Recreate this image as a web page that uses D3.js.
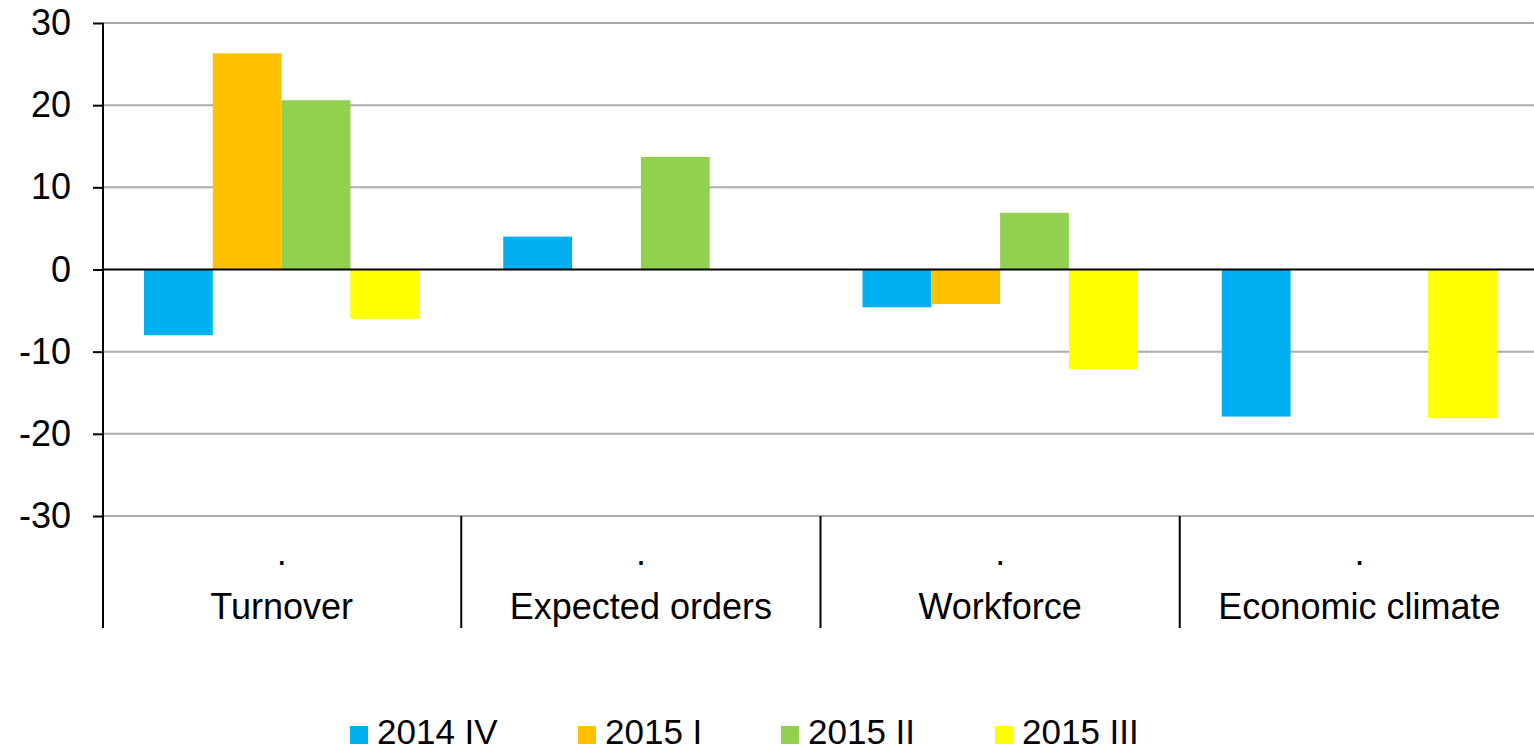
<!DOCTYPE html>
<html>
<head>
<meta charset="utf-8">
<script src="https://cdn.jsdelivr.net/npm/d3@7"></script>
<style>
  html, body { margin: 0; padding: 0; background: #fff; overflow: hidden; }
  svg { display: block; font-family: "Liberation Sans", Arial, sans-serif; }
</style>
</head>
<body>
<div id="chart"></div>
<script>
// --- dati ---
const categories = ["Turnover", "Expected orders", "Workforce", "Economic climate"];
const seriesNames = ["2014 IV", "2015 I", "2015 II", "2015 III"];
const s2014IV  = [-8.0, 4.0, -4.6, -17.9];
const s2015I   = [26.3, 0, -4.2, 0];
const s2015II  = [20.6, 13.7, 6.9, 0];
const s2015III = [-6.0, 0, -12.1, -18.1];
const yTicks = [30, 20, 10, 0, -10, -20, -30];
const colors = ["#00B0F0", "#FFC000", "#92D050", "#FFFF00"];

const seriesValues = [s2014IV, s2015I, s2015II, s2015III];

const W = 1534, H = 751;
const margin = { top: 23, left: 102 };
const plotBottom = 516;
const plotRight = 1539; // l'area del grafico esce leggermente dal bordo

const svg = d3.select("#chart").append("svg")
  .attr("width", W).attr("height", H);

const x0 = d3.scaleBand().domain(categories).range([margin.left, plotRight]).padding(0);
const groupPad = 42;
const x1 = d3.scaleBand().domain(seriesNames).range([groupPad, x0.bandwidth() - groupPad]).padding(0);
const y = d3.scaleLinear().domain([-30, 30]).range([plotBottom, margin.top]);

// griglia
svg.append("g")
  .selectAll("line")
  .data(yTicks.filter(t => t !== 0))
  .join("line")
  .attr("x1", margin.left).attr("x2", W)
  .attr("y1", d => y(d)).attr("y2", d => y(d))
  .attr("stroke", "#ababab").attr("stroke-width", 2);

// barre
const rows = [];
categories.forEach((c, i) => {
  seriesNames.forEach((s, j) => {
    const v = seriesValues[j][i];
    if (v !== 0) rows.push({ cat: c, series: s, value: v, color: colors[j] });
  });
});

svg.append("g")
  .selectAll("rect")
  .data(rows)
  .join("rect")
  .attr("x", d => x0(d.cat) + x1(d.series))
  .attr("width", x1.bandwidth())
  .attr("y", d => y(Math.max(0, d.value)))
  .attr("height", d => Math.abs(y(d.value) - y(0)))
  .attr("fill", d => d.color);

// linea dello zero
svg.append("line")
  .attr("x1", margin.left).attr("x2", W)
  .attr("y1", y(0)).attr("y2", y(0))
  .attr("stroke", "#000").attr("stroke-width", 2);

// asse y (trattino normale come segno meno)
const yAxis = svg.append("g")
  .attr("transform", `translate(${margin.left + 1},0)`)
  .call(d3.axisLeft(y).tickValues(yTicks).tickFormat(d => String(d))
    .tickSize(10).tickPadding(22).tickSizeOuter(0));
yAxis.select(".domain").remove();
yAxis.selectAll(".tick line").attr("stroke", "#000").attr("stroke-width", 2);
yAxis.selectAll(".tick text")
  .attr("fill", "#000")
  .style("font-size", "36px")
  .style("font-family", "'Liberation Sans', Arial, sans-serif");

svg.append("line")
  .attr("x1", margin.left + 1).attr("x2", margin.left + 1)
  .attr("y1", margin.top).attr("y2", 628)
  .attr("stroke", "#000").attr("stroke-width", 2);

// separatori categorie
svg.append("g")
  .selectAll("line")
  .data(categories.slice(1))
  .join("line")
  .attr("x1", d => x0(d)).attr("x2", d => x0(d))
  .attr("y1", plotBottom).attr("y2", 628)
  .attr("stroke", "#000").attr("stroke-width", 2);

// etichette categorie
const catLabels = svg.append("g")
  .selectAll("g")
  .data(categories)
  .join("g")
  .attr("transform", d => `translate(${x0(d) + x0.bandwidth() / 2},0)`);
catLabels.append("text")
  .attr("y", 565).attr("text-anchor", "middle")
  .style("font-size", "36px").text(".");
catLabels.append("text")
  .attr("y", 619).attr("text-anchor", "middle")
  .style("font-size", "36px").text(d => d);

// legenda
const legendX = [350, 578, 781, 995];
const legend = svg.append("g")
  .selectAll("g")
  .data(seriesNames)
  .join("g")
  .attr("transform", (d, i) => `translate(${legendX[i]},726)`);
legend.append("rect")
  .attr("width", 18).attr("height", 18)
  .attr("fill", (d, i) => colors[i]);
legend.append("text")
  .attr("x", 27).attr("y", 18)
  .style("font-size", "35px").text(d => d);
</script>
</body>
</html>
